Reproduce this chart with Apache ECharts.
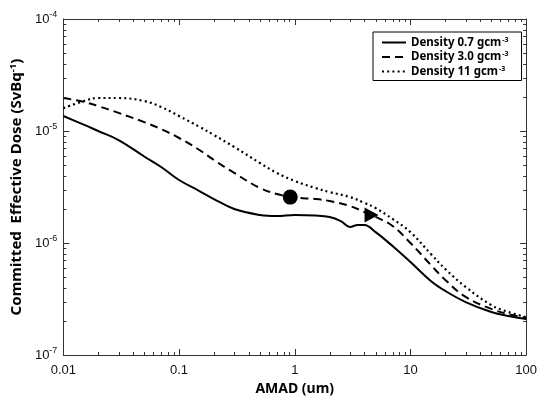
<!DOCTYPE html>
<html><head><meta charset="utf-8">
<script src="https://cdn.jsdelivr.net/npm/echarts@6/dist/echarts.min.js"></script>
<style>html,body{margin:0;padding:0;background:#fff}#c{width:540px;height:403px}</style>
</head><body><div id="c"></div>
<script>
// AMAD (um)
const amad = [0.01,0.015,0.02,0.03,0.05,0.07,0.1,0.15,0.2,0.3,0.5,0.7,1,1.5,2,2.5,3,3.5,4,5,7,10,15,20,30,50,70,100];
// Committed effective dose (Sv/Bq)
const dose07 = [1.36e-5,1.14e-5,1.0e-5,8.31e-6,5.92e-6,4.77e-6,3.65e-6,2.91e-6,2.47e-6,2.01e-6,1.78e-6,1.74e-6,1.78e-6,1.76e-6,1.71e-6,1.57e-6,1.39e-6,1.45e-6,1.45e-6,1.25e-6,9.4e-7,6.76e-7,4.58e-7,3.73e-7,2.97e-7,2.42e-7,2.23e-7,2.1e-7];
const amad30 = [0.01,0.015,0.02,0.03,0.05,0.07,0.1,0.15,0.2,0.3,0.5,0.7,1,1.5,2,3,4,5,7,10,15,20,30,50,70,100];
const dose30 = [1.97e-5,1.82e-5,1.67e-5,1.45e-5,1.2e-5,1.04e-5,8.66e-6,6.77e-6,5.51e-6,4.22e-6,3.1e-6,2.74e-6,2.55e-6,2.47e-6,2.37e-6,2.14e-6,1.89e-6,1.71e-6,1.42e-6,1.0e-6,6.37e-7,4.68e-7,3.3e-7,2.58e-7,2.32e-7,2.14e-7];
const dose11 = [1.6e-5,1.85e-5,1.97e-5,1.97e-5,1.85e-5,1.64e-5,1.36e-5,1.09e-5,9.21e-6,7.2e-6,5.18e-6,4.22e-6,3.58e-6,3.1e-6,2.85e-6,2.57e-6,2.28e-6,2.05e-6,1.64e-6,1.25e-6,7.98e-7,5.86e-7,4.05e-7,2.79e-7,2.42e-7,2.18e-7];
const circleMark = [0.914, 2.57e-6];
const triangleMark = [4.61, 1.78e-6];
const seriesNames = ['Density 0.7 gcm', 'Density 3.0 gcm', 'Density 11 gcm'];
const xMin = 0.01, xMax = 100, yMin = 1e-7, yMax = 1e-4;

function zip(a,b){return a.map((v,i)=>[v,b[i]]);}
// minor tick values (2..9 per decade)
const minorTicks = [];
for (let d = xMin; d < xMax*0.99; d *= 10) for (let k = 2; k <= 9; k++) minorTicks.push([+(d*k).toPrecision(3), 1e-6, 0]);
for (let d = yMin; d < yMax*0.99; d *= 10) for (let k = 2; k <= 9; k++) minorTicks.push([1, +(d*k).toPrecision(3), 1]);

const chart = echarts.init(document.getElementById('c'), null, {renderer:'canvas'});
const labelFont = 'Liberation Sans';
const titleFont = 'Noto Sans';
const grid = {left:61, right:12, top:19, bottom:48};
chart.setOption({
  animation:false,
  backgroundColor:'#fff',
  grid: grid,
  legend: {
    orient:'vertical', left:373, top:32, itemWidth:24, itemHeight:10, itemGap:2,
    padding:[4,13,3,8], borderColor:'#000', borderWidth:1, backgroundColor:'#fff',
    data: seriesNames,
    itemStyle:{opacity:0},
    formatter: n => '{a|' + n + '}{s|-3}',
    textStyle: {rich:{
      a:{fontFamily:titleFont, fontWeight:'bold', fontSize:11.5, color:'#000'},
      s:{fontFamily:titleFont, fontWeight:'bold', fontSize:7, color:'#000', padding:[0,0,6,1]}
    }}
  },
  xAxis: [{
    type:'log', logBase:10, min:xMin, max:xMax, position:'bottom',
    name:'AMAD (um)', nameLocation:'middle', nameGap:20,
    nameTextStyle:{fontFamily:titleFont, fontWeight:'bold', fontSize:14, color:'#000'},
    axisLine:{lineStyle:{color:'#333', width:1}},
    axisTick:{inside:true, length:6, lineStyle:{color:'#333'}},
    axisLabel:{fontFamily:labelFont, fontSize:13, color:'#111', margin:9,
      formatter: v => (v>=1? String(Math.round(v)) : String(+v.toPrecision(2)))},
    splitLine:{show:false}
  },{
    type:'log', logBase:10, min:xMin, max:xMax, position:'top',
    axisLine:{lineStyle:{color:'#333', width:1}},
    axisTick:{inside:true, length:6, lineStyle:{color:'#333'}},
    axisLabel:{show:false}, splitLine:{show:false}
  }],
  yAxis: [{
    type:'log', logBase:10, min:yMin, max:yMax, position:'left',
    name:'Committed  Effective Dose (SvBq{s|-1})', nameLocation:'middle', nameGap:32,
    nameRotate:90,
    nameTextStyle:{fontFamily:titleFont, fontWeight:'bold', fontSize:15, color:'#000',
      rich:{s:{fontFamily:titleFont, fontWeight:'bold', fontSize:9.5, color:'#000', padding:[0,0,7,0]}}},
    axisLine:{lineStyle:{color:'#333', width:1}},
    axisTick:{inside:true, length:6, lineStyle:{color:'#333'}},
    axisLabel:{fontFamily:labelFont, fontSize:13, color:'#111', margin:6,
      formatter: v => { const e = Math.round(Math.log10(v)); return '{b|10}{s|' + e + '}'; },
      rich:{b:{fontFamily:labelFont, fontSize:13, color:'#111'}, s:{fontFamily:labelFont, fontSize:9, color:'#111', padding:[0,0,8,0]}}},
    splitLine:{show:false}
  },{
    type:'log', logBase:10, min:yMin, max:yMax, position:'right',
    axisLine:{lineStyle:{color:'#333', width:1}},
    axisTick:{inside:true, length:6, lineStyle:{color:'#333'}},
    axisLabel:{show:false}, splitLine:{show:false}
  }],
  series: [
    {name:seriesNames[0], type:'line', data:zip(amad,dose07), symbol:'none', smooth:0.4,
      lineStyle:{color:'#000', width:2, type:'solid'}, itemStyle:{color:'#000'}},
    {name:seriesNames[1], type:'line', data:zip(amad30,dose30), symbol:'none', smooth:0.4,
      lineStyle:{color:'#000', width:2, type:[8,5]}, itemStyle:{color:'#000'}},
    {name:seriesNames[2], type:'line', data:zip(amad30,dose11), symbol:'none', smooth:0.4,
      lineStyle:{color:'#000', width:2.2, type:[2,3.2]}, itemStyle:{color:'#000'}},
    {type:'scatter', data:[circleMark], symbol:'circle', symbolSize:15, itemStyle:{color:'#000', opacity:1}, z:5},
    {type:'scatter', data:[triangleMark], symbol:'triangle', symbolSize:[15,14], symbolRotate:-90, itemStyle:{color:'#000', opacity:1}, z:5},
    {type:'custom', data:minorTicks, silent:true, clip:false, z:6,
      renderItem:(params, api) => {
        const kind = api.value(2);
        const st = {stroke:'#333', lineWidth:1};
        if (kind === 0) {
          const v = api.value(0);
          const b = api.coord([v, yMin]), t = api.coord([v, yMax]);
          const x = Math.round(b[0]) + 0.5;
          return {type:'group', children:[
            {type:'line', shape:{x1:x, y1:b[1], x2:x, y2:b[1]-3}, style:st},
            {type:'line', shape:{x1:x, y1:t[1], x2:x, y2:t[1]+3}, style:st}
          ]};
        } else {
          const v = api.value(1);
          const l = api.coord([xMin, v]), r = api.coord([xMax, v]);
          const y = Math.round(l[1]) + 0.5;
          return {type:'group', children:[
            {type:'line', shape:{x1:l[0], y1:y, x2:l[0]+3, y2:y}, style:st},
            {type:'line', shape:{x1:r[0], y1:y, x2:r[0]-3, y2:y}, style:st}
          ]};
        }
      }}
  ]
});
</script></body></html>
